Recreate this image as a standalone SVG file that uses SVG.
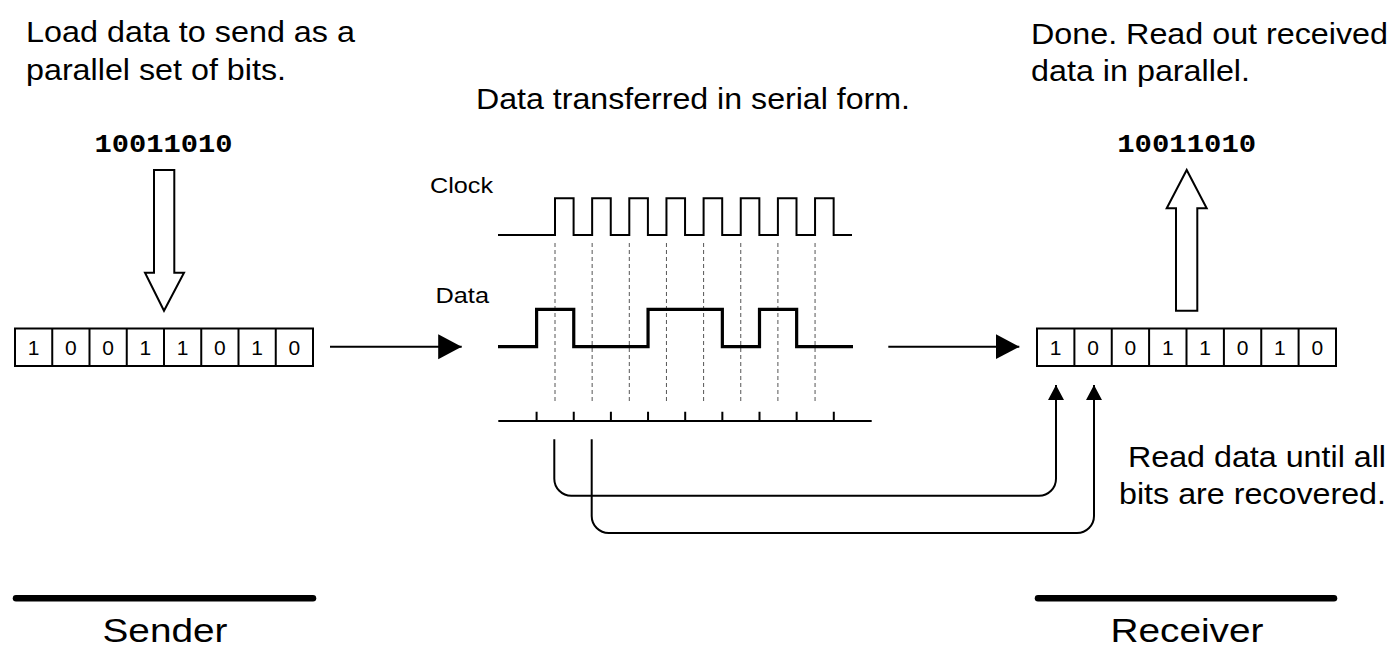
<svg xmlns="http://www.w3.org/2000/svg" width="1395" height="649" viewBox="0 0 1395 649">
<style>
.t{font-family:"Liberation Sans",Arial,sans-serif;fill:#000}
.big{font-size:29px}
.sig{font-size:22.5px}
.cell{font-size:21px;text-anchor:middle}
.mono{font-family:"Liberation Mono","Courier New",monospace;font-weight:bold;font-size:26.5px;text-anchor:middle;fill:#000}
.foot{font-size:34px;text-anchor:middle}
.box{fill:#fff;stroke:#000;stroke-width:2}
.hollow{fill:#fff;stroke:#000;stroke-width:2;stroke-linejoin:miter}
.wire{fill:none;stroke:#000;stroke-width:2}
.clk{fill:none;stroke:#000;stroke-width:2;stroke-linejoin:miter}
.dat{fill:none;stroke:#000;stroke-width:3.2;stroke-linejoin:miter}
.dash{stroke:#555;stroke-width:1;stroke-dasharray:4 3}
.bar{stroke:#000;stroke-width:6.5;stroke-linecap:round}
</style>
<defs>
<marker id="ah" markerWidth="16" markerHeight="16" refX="15" refY="8" orient="auto" markerUnits="userSpaceOnUse">
<path d="M0,0 L15,8 L0,16 Z" fill="#000"/>
</marker>
<marker id="bh" markerWidth="26" markerHeight="26" refX="23.5" refY="12.5" orient="auto" markerUnits="userSpaceOnUse">
<path d="M0,0 L23.5,12.5 L0,25 Z" fill="#000"/>
</marker>
</defs>

<g id="sender-caption">
<text class="t big" x="26" y="42" textLength="329" lengthAdjust="spacingAndGlyphs">Load data to send as a</text>
<text class="t big" x="26" y="79.5" textLength="260" lengthAdjust="spacingAndGlyphs">parallel set of bits.</text>
</g>

<g id="receiver-caption">
<text class="t big" x="1031" y="44" textLength="357" lengthAdjust="spacingAndGlyphs">Done. Read out received</text>
<text class="t big" x="1031" y="81" textLength="219" lengthAdjust="spacingAndGlyphs">data in parallel.</text>
</g>

<g id="serial-caption">
<text class="t big" x="476" y="109" textLength="434" lengthAdjust="spacingAndGlyphs">Data transferred in serial form.</text>
</g>

<g id="sender-word">
<text class="mono" x="163.5" y="151.7" textLength="138" lengthAdjust="spacingAndGlyphs">10011010</text>
<path class="hollow" d="M154,170 H174.3 V272.7 H184 L164,310.7 L145,272.7 H154 Z"/>
</g>

<g id="receiver-word">
<text class="mono" x="1186.7" y="151.7" textLength="139" lengthAdjust="spacingAndGlyphs">10011010</text>
<path class="hollow" d="M1176,310.7 V208.3 H1166.7 L1186.7,170 L1206.7,208.3 H1197.3 V310.7 Z"/>
</g>

<g id="sender-register">
<rect class="box" x="15" y="328.5" width="298" height="37.5"/>
<path class="wire" d="M52.25,328.5V366M89.5,328.5V366M126.75,328.5V366M164,328.5V366M201.25,328.5V366M238.5,328.5V366M275.75,328.5V366"/>
<g class="t cell">
<text x="33.6" y="354.5">1</text><text x="70.9" y="354.5">0</text><text x="108.1" y="354.5">0</text><text x="145.4" y="354.5">1</text>
<text x="182.6" y="354.5">1</text><text x="219.9" y="354.5">0</text><text x="257.1" y="354.5">1</text><text x="294.4" y="354.5">0</text>
</g>
</g>

<g id="receiver-register">
<rect class="box" x="1037" y="328.5" width="299" height="37.5"/>
<path class="wire" d="M1074.4,328.5V366M1111.75,328.5V366M1149.1,328.5V366M1186.5,328.5V366M1223.9,328.5V366M1261.25,328.5V366M1298.6,328.5V366"/>
<g class="t cell">
<text x="1055.7" y="354.5">1</text><text x="1093.1" y="354.5">0</text><text x="1130.4" y="354.5">0</text><text x="1167.8" y="354.5">1</text>
<text x="1205.2" y="354.5">1</text><text x="1242.6" y="354.5">0</text><text x="1279.9" y="354.5">1</text><text x="1317.3" y="354.5">0</text>
</g>
</g>

<g id="timing">
<text class="t sig" x="430" y="193.3" textLength="63" lengthAdjust="spacingAndGlyphs">Clock</text>
<text class="t sig" x="435.5" y="303.3" textLength="53.5" lengthAdjust="spacingAndGlyphs">Data</text>
<g id="sample-lines">
<path class="dash" d="M555,243V401.7M592.15,243V401.7M629.3,243V401.7M666.45,243V401.7M703.6,243V401.7M740.75,243V401.7M777.9,243V401.7M815.05,243V401.7"/>
</g>
<path class="clk" d="M498,235 H555 V198.3 H573.6 V235 H592.15 V198.3 H610.75 V235 H629.3 V198.3 H647.9 V235 H666.45 V198.3 H685.05 V235 H703.6 V198.3 H722.2 V235 H740.75 V198.3 H759.35 V235 H777.9 V198.3 H796.5 V235 H815.05 V198.3 H833.65 V235 H852"/>
<path class="dat" d="M498,346.7 H536.6 V309.3 H573.75 V346.7 H648.05 V309.3 H722.35 V346.7 H759.5 V309.3 H796.65 V346.7 H853"/>
<path class="wire" d="M498.3,421 H871.7"/>
<path class="wire" d="M536.6,411.7V421M573.75,411.7V421M610.9,411.7V421M648.05,411.7V421M685.2,411.7V421M722.35,411.7V421M759.5,411.7V421M796.65,411.7V421M833.8,411.7V421"/>
</g>

<g id="connectors">
<path class="wire" stroke-width="4" d="M330,346.7 H461.7" marker-end="url(#bh)"/>
<path class="wire" stroke-width="4" d="M888.3,346.7 H1019.3" marker-end="url(#bh)"/>
<path class="wire" d="M554.3,439.3 V478.7 A17,17 0 0 0 571.3,495.7 H1039 A17,17 0 0 0 1056,478.7 V385" marker-end="url(#ah)"/>
<path class="wire" d="M591.7,439.3 V516 A17,17 0 0 0 608.7,533 H1077 A17,17 0 0 0 1094,516 V385" marker-end="url(#ah)"/>
</g>

<g id="read-caption">
<text class="t big" x="1386" y="467" text-anchor="end" textLength="258" lengthAdjust="spacingAndGlyphs">Read data until all</text>
<text class="t big" x="1386" y="504" text-anchor="end" textLength="267" lengthAdjust="spacingAndGlyphs">bits are recovered.</text>
</g>

<g id="sender">
<line class="bar" x1="16" y1="598.3" x2="313" y2="598.3"/>
<text class="t foot" x="165" y="642" textLength="125" lengthAdjust="spacingAndGlyphs">Sender</text>
</g>

<g id="receiver">
<line class="bar" x1="1038" y1="598.3" x2="1334" y2="598.3"/>
<text class="t foot" x="1187" y="642" textLength="153" lengthAdjust="spacingAndGlyphs">Receiver</text>
</g>
</svg>
